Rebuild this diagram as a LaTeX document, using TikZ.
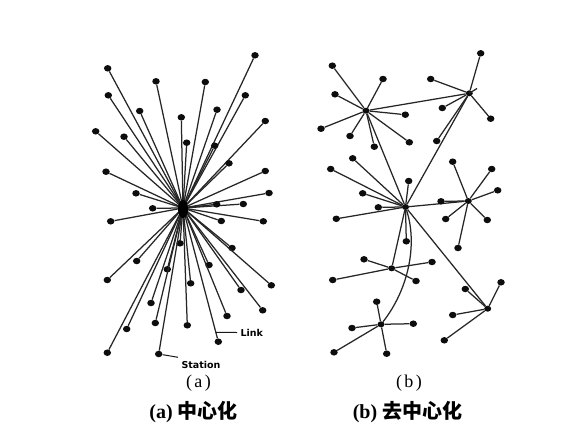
\documentclass[tikz,border=0pt]{standalone}
\usepackage{fontspec}
\setmainfont{Liberation Serif}
\setsansfont{DejaVu Sans}
\newfontfamily\cjk{Noto Sans CJK SC}
\usetikzlibrary{shapes.geometric,calc}
\begin{document}
\begin{tikzpicture}[x=1pt,y=-1pt,
  dot/.style={ellipse,fill=black!95,inner sep=0pt,minimum width=7.5pt,minimum height=6.5pt},
  hub/.style={ellipse,fill=black!95,inner sep=0pt,minimum width=7pt,minimum height=6pt},
  link/.style={draw=black!85,line width=1.25pt},
  ptr/.style={draw=black!90,line width=1pt},
  tinytxt/.style={font=\sffamily\bfseries\fontsize{9.5}{10}\selectfont},
  subtxt/.style={font=\fontsize{18}{20}\selectfont},
  captxt/.style={font=\bfseries\fontsize{20}{22}\selectfont}]
\useasboundingbox[fill=white] (0,0) rectangle (576,445);

% ---------- (a) centralised ----------
\coordinate (ha) at (183,208);
\foreach \n/\x/\y in {1/107.7/68.3, 2/255/55.3, 3/156/81.3, 4/205.3/82, 5/108.3/95.3,
  6/245.3/95.3, 7/139.7/111, 8/217/109.7, 9/181.3/117.3, 10/265.3/121,
  11/95.7/131.3, 12/124/136.7, 13/186.7/142.7, 14/214.7/145.7, 15/229/163.3,
  16/106/171.7, 17/265.3/171, 18/136/193.3, 19/269/193, 20/243.3/204,
  21/216.7/204.3, 22/152.7/208.3, 23/110.7/221.3, 24/221.3/221, 25/263.3/221.3,
  26/180/243.3, 27/232/248, 28/136.7/261, 29/209/265, 30/167.3/269.3,
  31/107.3/280, 32/190.7/283.3, 33/271.3/285.3, 34/241/290, 35/151/303,
  36/262.7/310.3, 37/227/316, 38/155.3/323, 39/187.3/325.3, 40/126.7/329,
  41/218.3/341.7, 42/107.3/352.7, 43/158.7/354}
{
  \node[dot] (a\n) at (\x,\y) {};
  \draw[link] (ha) -- (a\n);
}
\node[ellipse,fill=black,inner sep=0pt,minimum width=10pt,minimum height=18pt] (hablob) at (183,209) {};

% labels Link / Station
\coordinate (lkp) at ($(ha)!0.93!(a41)$);
\node[tinytxt,anchor=west] (lk) at (237,332.5) {Link};
\draw[ptr] (lkp) -- (lk.west);
\node[tinytxt,anchor=west] (st) at (178,364.5) {Station};
\draw[ptr] (a43) -- (st.north west);

% ---------- (b) decentralised ----------
\node[hub] (h1) at (366,110.7) {};
\node[hub] (h2) at (469.3,93.3) {};
\node[hub] (h3) at (405.5,207) {};
\node[hub] (h4) at (468.3,201) {};
\node[hub] (h5) at (391.7,268.3) {};
\node[hub] (h6) at (381,324.3) {};
\node[hub] (h7) at (487.7,308.7) {};

\draw[link] (h1) -- (h2);
\coordinate (h2x) at (477,88.5);
\draw[link] (h2.center) -- (h2x);
\draw[link] (h1) -- (h3);
\draw[link] (h2) -- (h3);
\draw[link] (h3) -- (h4);
\draw[link] (h3) -- (h5);
\draw[link] (h3) -- (h7);
\draw[link] (h3) .. controls (418,245) and (408,290) .. (h6);

\foreach \h/\n/\x/\y in {
  1/1/332.3/65.7, 1/2/383/79, 1/3/335/94.3, 1/4/405.3/114.7, 1/5/321/128.7,
  1/6/350/136, 1/7/374.3/146.7, 1/8/409.3/142.3,
  2/1/480.7/53.3, 2/2/430.7/79, 2/3/442.3/108, 2/4/490.7/118.7, 2/5/436.7/141,
  3/1/352.7/158.3, 3/2/330.7/169, 3/3/408.7/181, 3/4/362.7/193.3, 3/5/378.3/207.3,
  3/6/336.3/218.8, 3/7/406.3/241.3,
  4/1/452.7/161.7, 4/2/491.7/169, 4/3/497.7/190.3, 4/4/445.7/219, 4/5/487.3/220,
  4/6/458/248, 4/7/441/201.3,
  5/1/364/259.3, 5/2/432/262, 5/3/332.7/280, 5/4/416/281,
  6/1/376.7/301.7, 6/2/352/328, 6/3/413.3/323.7, 6/4/334/352.3, 6/5/386.7/353.7,
  7/1/465.3/289, 7/2/501/282.3, 7/3/452.7/315, 7/4/444.3/340.3}
{
  \node[dot] (b\h s\n) at (\x,\y) {};
  \draw[link] (h\h) -- (b\h s\n);
}

% ---------- captions ----------
\node[subtxt] (la) at (198.5,383) {(\hspace{2.5pt}a\hspace{2.5pt})};
\node[subtxt] (lb) at (409,383) {(\hspace{2.5pt}b\hspace{2.5pt})};
\node[captxt] (ca) at (193.5,412) {(a) {\cjk 中心化}};
\node[captxt] (cb) at (407.5,412) {(b) {\cjk 去中心化}};
\end{tikzpicture}
\end{document}
